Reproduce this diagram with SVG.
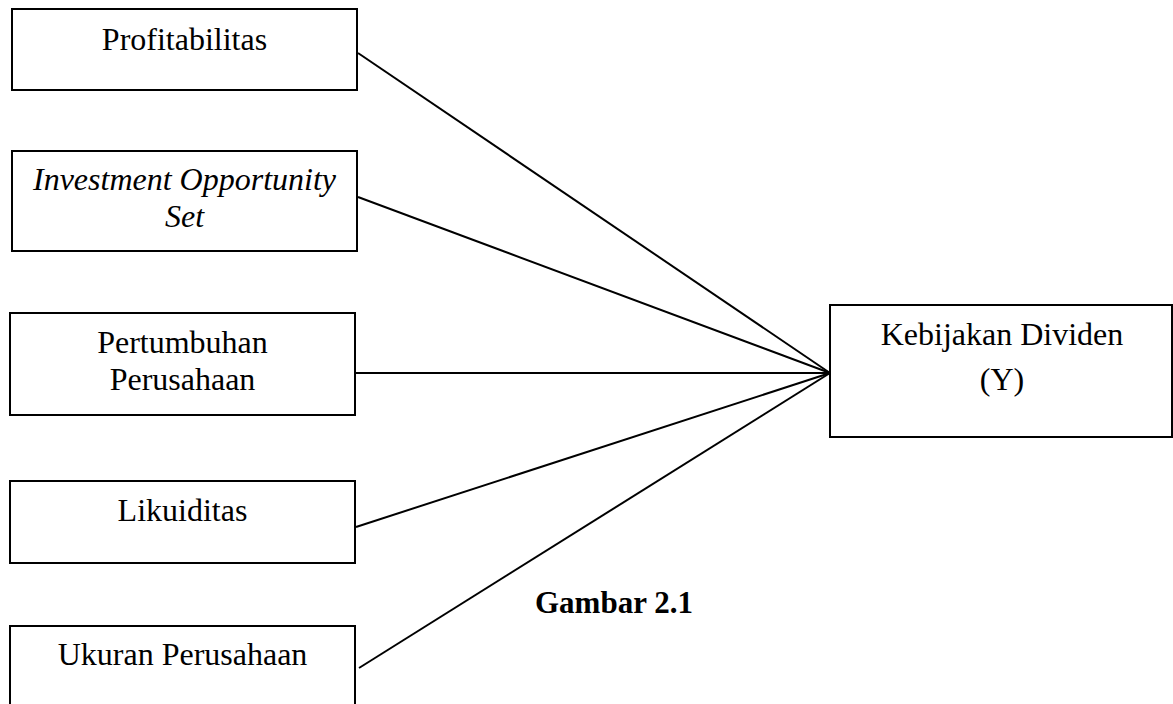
<svg xmlns="http://www.w3.org/2000/svg" width="1173" height="704" viewBox="0 0 1173 704">
<style>
rect.n{fill:#fff;stroke:#000;stroke-width:2}
text{font-family:"Liberation Serif","Times New Roman",serif;font-size:32px;fill:#000;text-anchor:middle}
.it{font-style:italic}
.cap{font-weight:bold;font-size:31px;text-anchor:start}
line{stroke:#000;stroke-width:2}
</style>
<rect width="1173" height="704" fill="#fff"/>
<g id="connectors">
<line x1="358" y1="53" x2="830" y2="373"/>
<line x1="358" y1="197" x2="830" y2="373"/>
<line x1="355" y1="373" x2="830" y2="373"/>
<line x1="356" y1="527" x2="830" y2="373"/>
<line x1="359" y1="668" x2="830" y2="373"/>
</g>
<g id="n1">
<rect class="n" x="12" y="9" width="345" height="81"/>
<text x="184.5" y="50">Profitabilitas</text>
</g>
<g id="n2">
<rect class="n" x="12" y="151" width="345" height="100"/>
<text class="it" x="184.5" y="190">Investment Opportunity</text>
<text class="it" x="184.5" y="227">Set</text>
</g>
<g id="n3">
<rect class="n" x="10" y="313" width="345" height="102"/>
<text x="182.5" y="353">Pertumbuhan</text>
<text x="182.5" y="390">Perusahaan</text>
</g>
<g id="n4">
<rect class="n" x="10" y="481" width="345" height="82"/>
<text x="182.5" y="521">Likuiditas</text>
</g>
<g id="n5">
<path d="M10 710 V626 H355 V710" fill="#fff" stroke="#000" stroke-width="2"/>
<text x="182.5" y="665">Ukuran Perusahaan</text>
</g>
<g id="target">
<rect class="n" x="830" y="305" width="342" height="132"/>
<text x="1002" y="345">Kebijakan Dividen</text>
<text x="1002" y="390">(Y)</text>
</g>
<g id="caption">
<text class="cap" x="535" y="613">Gambar 2.1</text>
</g>
</svg>
